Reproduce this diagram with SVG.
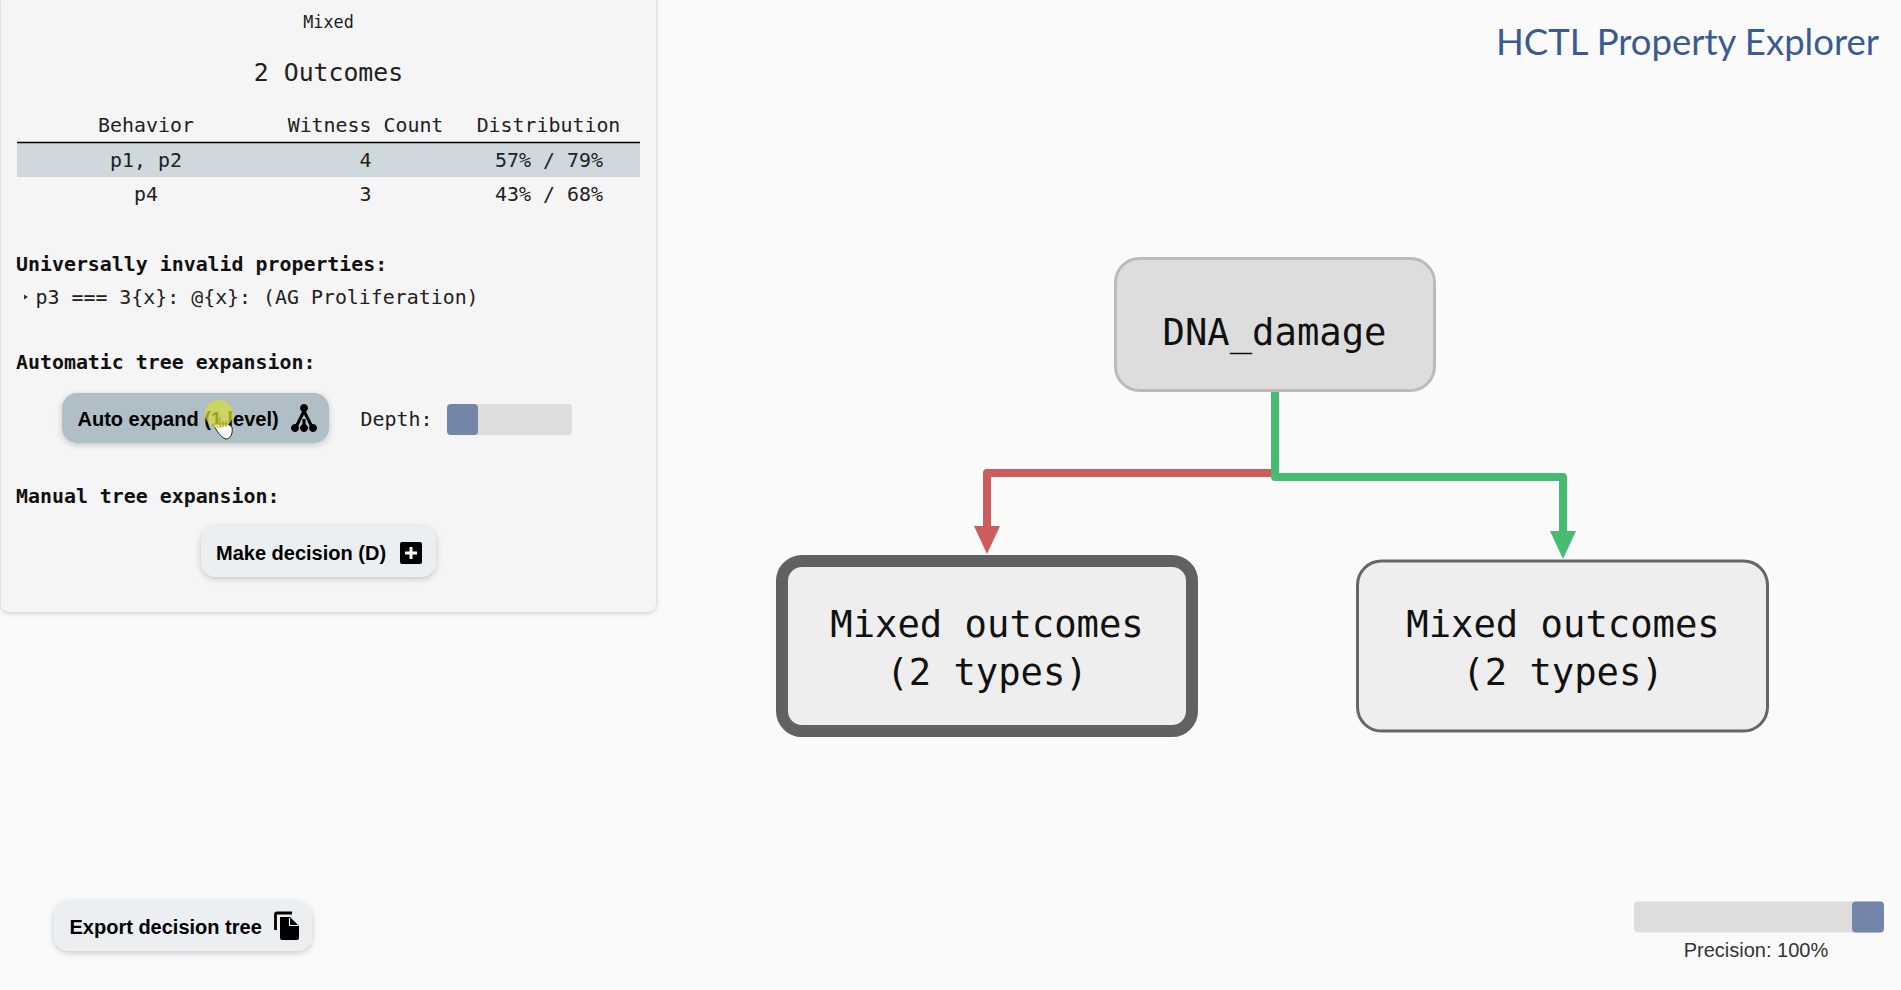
<svg xmlns="http://www.w3.org/2000/svg" width="1901" height="990" viewBox="0 0 1901 990">
<style>
.m{font-family:"DejaVu Sans Mono","Liberation Mono",monospace;fill:#212121}
.t{font-size:19.9px;text-anchor:middle}
.b{font-size:19.9px;font-weight:700;fill:#111}
.n{font-size:37.2px;text-anchor:middle;fill:#111}
.s{font-family:"Liberation Sans",Arial,sans-serif}
.btn{font-size:20px;font-weight:700;fill:#000}
.track{fill:#ddd}
.thumb{fill:#7386a9}
.edge{fill:none;stroke-width:8;stroke-linejoin:round}
</style>
<defs>
<filter id="sh" x="-10%" y="-20%" width="120%" height="150%"><feDropShadow dx="0" dy="2" stdDeviation="3" flood-color="#000" flood-opacity=".2"/></filter>
<filter id="shp" x="-5%" y="-5%" width="110%" height="110%"><feDropShadow dx="0" dy="1" stdDeviation="2.5" flood-color="#000" flood-opacity=".22"/></filter>
<marker id="ar" markerUnits="userSpaceOnUse" markerWidth="26" markerHeight="30" refX="13" refY="1" orient="0" viewBox="0 0 26 30"><path d="M0 0H26L13 28Z" fill="#cd5c5c"/></marker>
<marker id="ag" markerUnits="userSpaceOnUse" markerWidth="26" markerHeight="30" refX="13" refY="1" orient="0" viewBox="0 0 26 30"><path d="M0 0H26L13 28Z" fill="#48bb73"/></marker>
</defs>
<rect width="1901" height="990" fill="#fafafa"/>
<g id="panel">
<rect x="1" y="-10" width="655" height="622" rx="9" fill="#f5f5f5" filter="url(#shp)"/>
<text class="m" x="328.500" y="27.500" font-size="16.800" text-anchor="middle">Mixed</text>
<text class="m" x="328.500" y="81" font-size="24.800" text-anchor="middle">2 Outcomes</text>
<rect x="17" y="143" width="623" height="34" fill="#cfd8dc"/>
<line x1="17" y1="142.500" x2="640" y2="142.500" stroke="#000" stroke-width="1.500"/>
<text class="m t" x="146" y="132">Behavior</text>
<text class="m t" x="365.500" y="132">Witness Count</text>
<text class="m t" x="548.500" y="132">Distribution</text>
<text class="m t" x="146" y="167">p1, p2</text>
<text class="m t" x="365.500" y="167">4</text>
<text class="m t" x="549" y="167">57% / 79%</text>
<text class="m t" x="146" y="201">p4</text>
<text class="m t" x="365.500" y="201">3</text>
<text class="m t" x="549" y="201">43% / 68%</text>
<text class="m b" x="16" y="271">Universally invalid properties:</text>
<path d="M24 294.500L28 297L24 299.500Z" fill="#333"/>
<text class="m" x="35.500" y="304" font-size="19.900">p3 === 3{x}: @{x}: (AG Proliferation)</text>
<text class="m b" x="16" y="369">Automatic tree expansion:</text>
<text class="m b" x="16" y="503">Manual tree expansion:</text>
<text class="m" x="360.500" y="425.500" font-size="19.900">Depth:</text>
</g>
<g id="auto-expand">
<rect x="62" y="393" width="267" height="50" rx="15" fill="#b0bec5" filter="url(#sh)"/>
<text class="s btn" x="77.500" y="425.500">Auto expand (1 level)</text>
<g fill="#000" stroke="#000">
<path d="M304 411L296 427M304 411L312 427M304 419L304 426" stroke-width="3" fill="none"/>
<circle cx="304" cy="408" r="3.500"/><circle cx="295" cy="428" r="3.500"/><circle cx="304" cy="428" r="3.500"/><circle cx="313" cy="428" r="3.500"/>
</g>
</g>
<g id="cursor">
<path d="M213 424C216 430 221 438 226 439C231 439 233 433 232 427L228 424Z" fill="#fff" stroke="#222" stroke-width="1"/>
<circle cx="219" cy="414" r="14" fill="#d8dc3a" opacity=".72"/>
<path d="M220 417V427M223 421V427M226 421V427" stroke="#8a8a30" stroke-width=".8" fill="none"/>
</g>
<g id="depth-slider">
<rect class="track" x="447" y="404" width="125" height="31" rx="4"/>
<rect class="thumb" x="447" y="404" width="31" height="31" rx="4"/>
</g>
<g id="make-decision">
<rect x="201" y="526" width="235" height="51" rx="15" fill="#eceff1" filter="url(#sh)"/>
<text class="s btn" x="216" y="559.500">Make decision (D)</text>
<rect x="400" y="542" width="22" height="22" rx="2" fill="#000"/>
<path d="M411 547V559M405 553H417" stroke="#fff" stroke-width="3"/>
</g>
<g id="export">
<rect x="54" y="901" width="258" height="50" rx="15" fill="#eceff1" filter="url(#sh)"/>
<text class="s btn" x="69.500" y="933.500">Export decision tree</text>
<path d="M275.500 930V914.500Q275.500 913 277 913H292" fill="none" stroke="#000" stroke-width="2.800"/>
<path d="M280 917H290L299 926V938Q299 940 297 940H282Q280 940 280 938Z" fill="#000"/>
<path d="M289.500 918V925.500H298" fill="none" stroke="#eceff1" stroke-width="1.200"/>
</g>
<g id="precision">
<rect class="track" x="1634" y="901.500" width="250" height="31" rx="4"/>
<rect class="thumb" x="1852" y="901.500" width="32" height="31" rx="4"/>
<text class="s" x="1756" y="956.500" font-size="20" text-anchor="middle" fill="#333">Precision: 100%</text>
</g>
<text id="title" x="1879" y="55" font-family="Lato,'Open Sans',sans-serif" font-size="36.500" text-anchor="end" fill="#3a5a92">HCTL Property Explorer</text>
<g id="connectors">
<path class="edge" stroke="#cd5c5c" d="M1275 473H987V527" marker-end="url(#ar)"/>
<path class="edge" stroke="#48bb73" d="M1275 391V477H1563V532" marker-end="url(#ag)"/>
</g>
<g id="node-dna">
<rect x="1115.500" y="258.500" width="319" height="132" rx="24" fill="#ddd" stroke="#bbb" stroke-width="3"/>
<text class="m n" x="1274.500" y="345">DNA_damage</text>
</g>
<g id="node-mixed-1">
<rect x="782" y="561" width="410" height="170" rx="20" fill="#eee" stroke="#616161" stroke-width="12"/>
<text class="m n" x="987" y="637">Mixed outcomes</text>
<text class="m n" x="987" y="685">(2 types)</text>
</g>
<g id="node-mixed-2">
<rect x="1357.500" y="561" width="410" height="170" rx="24" fill="#eee" stroke="#666" stroke-width="3"/>
<text class="m n" x="1563" y="637">Mixed outcomes</text>
<text class="m n" x="1563" y="685">(2 types)</text>
</g>
</svg>
